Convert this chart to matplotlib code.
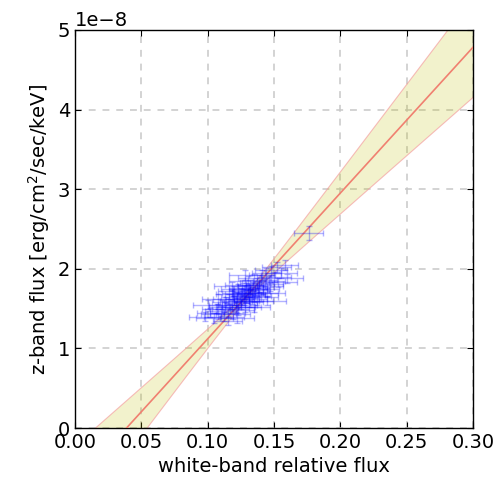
"""z-band flux vs white-band relative flux with linear fit and confidence band."""

import matplotlib

matplotlib.use("Agg")
import matplotlib.pyplot as plt
import numpy as np

# observed points (x: white-band relative flux, y: z-band flux in 1e-8 units)
white_flux = [
    0.098, 0.102, 0.105, 0.107, 0.108, 0.110, 0.111, 0.112, 0.113, 0.114,
    0.115, 0.116, 0.117, 0.118, 0.118, 0.119, 0.120, 0.120, 0.121, 0.122,
    0.122, 0.123, 0.123, 0.124, 0.125, 0.125, 0.126, 0.126, 0.127, 0.127,
    0.128, 0.128, 0.129, 0.129, 0.130, 0.130, 0.131, 0.131, 0.132, 0.132,
    0.133, 0.133, 0.134, 0.135, 0.135, 0.136, 0.137, 0.137, 0.138, 0.139,
    0.140, 0.140, 0.141, 0.142, 0.143, 0.144, 0.145, 0.146, 0.147, 0.148,
    0.150, 0.152, 0.153, 0.155, 0.158, 0.108, 0.115, 0.122, 0.135, 0.145,
    0.160, 0.100, 0.118, 0.128, 0.176,
]
z_flux = [
    1.40, 1.45, 1.38, 1.50, 1.43, 1.47, 1.55, 1.40, 1.52, 1.58,
    1.45, 1.62, 1.50, 1.55, 1.68, 1.43, 1.60, 1.72, 1.52, 1.65,
    1.57, 1.75, 1.48, 1.62, 1.70, 1.55, 1.66, 1.80, 1.60, 1.73,
    1.68, 1.52, 1.76, 1.63, 1.70, 1.85, 1.58, 1.67, 1.74, 1.80,
    1.62, 1.71, 1.78, 1.66, 1.88, 1.73, 1.60, 1.82, 1.70, 1.77,
    1.86, 1.65, 1.92, 1.74, 1.81, 1.95, 1.70, 1.85, 1.78, 1.98,
    1.90, 2.02, 1.83, 1.95, 2.05, 1.62, 1.35, 1.38, 1.52, 1.60,
    1.88, 1.55, 1.78, 1.92, 2.45,
]
white_err = [
    0.012, 0.010, 0.014, 0.011, 0.013, 0.012, 0.010, 0.015, 0.012, 0.011,
    0.013, 0.012, 0.014, 0.010, 0.012, 0.013, 0.011, 0.012, 0.015, 0.012,
    0.010, 0.013, 0.012, 0.011, 0.014, 0.012, 0.010, 0.013, 0.012, 0.011,
    0.015, 0.012, 0.013, 0.010, 0.012, 0.014, 0.011, 0.012, 0.013, 0.010,
    0.012, 0.014, 0.011, 0.013, 0.012, 0.010, 0.012, 0.013, 0.015, 0.011,
    0.012, 0.013, 0.010, 0.012, 0.014, 0.011, 0.013, 0.012, 0.010, 0.012,
    0.013, 0.011, 0.014, 0.012, 0.010, 0.012, 0.011, 0.013, 0.012, 0.014,
    0.012, 0.011, 0.013, 0.012, 0.011,
]
z_err = [0.06] * 74 + [0.09]

# linear fit (1e-8 units per unit relative flux), pivot near cluster centre
fit_slope = 18.3
fit_slope_err = 3.7
pivot_x = 0.13
pivot_y = 1.67
pivot_err = 0.05

fig = plt.figure(figsize=(5.01, 4.82), dpi=100)
ax = fig.add_axes([0.150, 0.112, 0.794, 0.826])

xs = np.linspace(0.0, 0.30, 300)
dx = xs - pivot_x
fit_line = pivot_y + fit_slope * dx
spread = np.sqrt(pivot_err ** 2 + (fit_slope_err * dx) ** 2)
ax.fill_between(
    xs,
    (fit_line - spread) * 1e-8,
    (fit_line + spread) * 1e-8,
    facecolor="y",
    alpha=0.2,
    edgecolor="none",
    zorder=1,
)
ax.plot(xs, (fit_line - spread) * 1e-8, color="#f4a0a0", linewidth=0.8, alpha=0.7, zorder=2)
ax.plot(xs, (fit_line + spread) * 1e-8, color="#f4a0a0", linewidth=0.8, alpha=0.7, zorder=2)
ax.plot(xs, fit_line * 1e-8, color="#f08070", linewidth=1.2, zorder=3)

ax.errorbar(
    white_flux,
    np.array(z_flux) * 1e-8,
    xerr=white_err,
    yerr=np.array(z_err) * 1e-8,
    fmt="none",
    ecolor="b",
    alpha=0.3,
    elinewidth=1.0,
    capsize=2,
    zorder=4,
)

ax.set_xlim(0.0, 0.30)
ax.set_ylim(0.0, 5e-8)
ax.set_xticks(np.arange(0.0, 0.301, 0.05))
ax.set_yticks(np.arange(0.0, 5.01e-8, 1e-8))
ax.xaxis.set_major_formatter(matplotlib.ticker.FormatStrFormatter("%.2f"))
ax.grid(True, color="#c8c8c8", linestyle=(0, (4.5, 4.5)), linewidth=1.1)
ax.set_axisbelow(True)
ax.tick_params(direction="in", top=True, right=True, labelsize=14, length=4, color="black")
ax.yaxis.get_offset_text().set_fontsize(14)
for spine in ax.spines.values():
    spine.set_color("black")
    spine.set_linewidth(1.0)

ax.set_xlabel("white-band relative flux", fontsize=14)
ax.set_ylabel("z-band flux [erg/cm$^2$/sec/keV]", fontsize=14)

fig.savefig("out.png", dpi=100)
